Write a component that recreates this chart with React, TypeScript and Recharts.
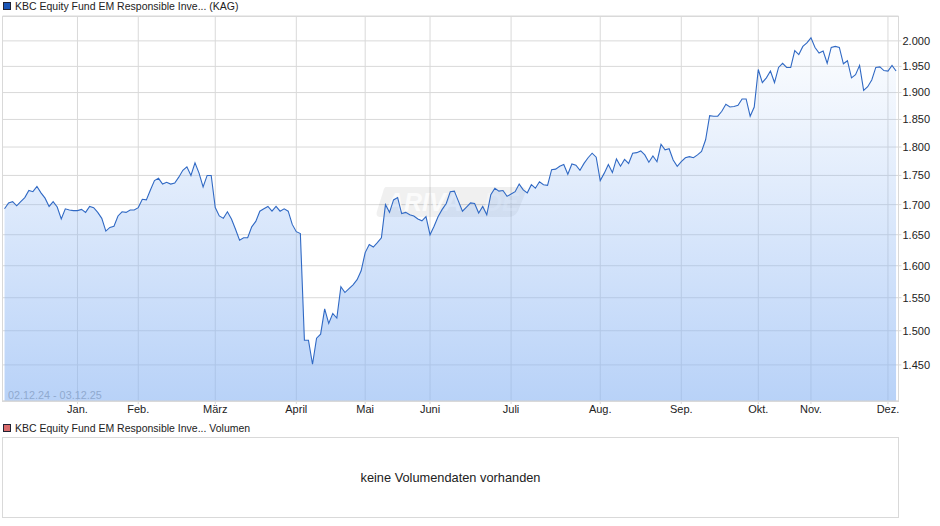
import { AreaChart, Area, XAxis, YAxis, CartesianGrid } from "recharts";

const FONT = '"Liberation Sans", Arial, sans-serif';

const closeValues = [
  1693, 1703, 1705, 1698, 1705, 1712, 1724, 1722, 1731, 1720, 1711, 1697, 1705, 1696, 1676, 1693, 1691, 1690, 1690, 1692,
  1687, 1697, 1695, 1687, 1677, 1656, 1662, 1664, 1681, 1688, 1687, 1691, 1691, 1695, 1709, 1708, 1725, 1741, 1745, 1735,
  1738, 1735, 1737, 1747, 1759, 1765, 1750, 1772, 1754, 1730, 1750, 1750, 1695, 1681, 1677, 1688, 1676, 1659, 1641, 1645,
  1645, 1663, 1672, 1689, 1693, 1697, 1689, 1697, 1689, 1693, 1689, 1667, 1655, 1652, 1486, 1486, 1451, 1489, 1495, 1533,
  1511, 1526, 1519, 1567, 1558, 1564, 1570, 1578, 1592, 1621, 1634, 1630, 1637, 1645, 1700, 1687, 1708, 1712, 1685, 1687,
  1683, 1681, 1676, 1673, 1680, 1650, 1664, 1680, 1692, 1702, 1722, 1723, 1706, 1689, 1696, 1703, 1702, 1686, 1697, 1683,
  1717, 1728, 1723, 1724, 1714, 1718, 1722, 1735, 1725, 1720, 1734, 1728, 1739, 1734, 1733, 1760, 1761, 1766, 1769, 1752,
  1770, 1768, 1759, 1771, 1781, 1789, 1782, 1741, 1754, 1769, 1755, 1779, 1766, 1778, 1771, 1789, 1790, 1793, 1786, 1773,
  1784, 1774, 1805, 1795, 1797, 1777, 1766, 1774, 1781, 1783, 1781, 1786, 1792, 1813, 1857, 1856, 1856, 1865, 1878, 1873,
  1874, 1876, 1888, 1888, 1856, 1873, 1944, 1919, 1928, 1941, 1919, 1948, 1956, 1948, 1948, 1981, 1973, 1989, 1996, 2006,
  1987, 1976, 1980, 1956, 1987, 1989, 1987, 1955, 1961, 1928, 1934, 1952, 1904, 1911, 1924, 1948, 1949, 1942, 1941, 1952,
  1941,
];

const monthLabels = ["Jan.", "Feb.", "März", "April", "Mai", "Juni", "Juli", "Aug.", "Sep.", "Okt.", "Nov.", "Dez."];
const monthStarts = [18, 33, 52, 72, 89, 105, 125, 147, 167, 186, 199, 218];
const priceTicks = [1450, 1500, 1550, 1600, 1650, 1700, 1750, 1800, 1850, 1900, 1950, 2000];

const rows = closeValues.map((close, idx) => ({ idx, close }));

const fmtPrice = (v: number) => v.toLocaleString("de-DE");
const fmtMonth = (v: number) => monthLabels[monthStarts.indexOf(v)] ?? "";

function LegendRow({ top, color, text }: { top: number; color: string; text: string }) {
  return (
    <>
      <div
        style={{
          position: "absolute",
          left: 3,
          top,
          width: 6,
          height: 6,
          background: color,
          border: "1px solid #223",
        }}
      />
      <div style={{ position: "absolute", left: 15, top: top - 2, fontSize: 10.5, lineHeight: "13px", color: "#222" }}>
        {text}
      </div>
    </>
  );
}

export default function App() {
  return (
    <div
      style={{
        position: "absolute",
        left: 0,
        top: 0,
        width: 940,
        height: 526,
        background: "#fff",
        fontFamily: FONT,
        overflow: "hidden",
      }}
    >
      <AreaChart width={940} height={526} data={rows} margin={{ top: 16, right: 0, bottom: 100, left: 2.5 }}>
        <defs>
          <linearGradient id="fundFill" x1="0" y1="0" x2="0" y2="1">
            <stop offset="0%" stopColor="#89b4f3" stopOpacity={0.02} />
            <stop offset="100%" stopColor="#89b4f3" stopOpacity={0.6} />
          </linearGradient>
        </defs>
        <CartesianGrid stroke="#d9d9d9" strokeWidth={1} />
        <XAxis
          dataKey="idx"
          type="number"
          domain={[-0.5, 220.6]}
          allowDataOverflow
          ticks={monthStarts}
          tickFormatter={fmtMonth}
          interval={0}
          height={25}
          tickSize={3}
          tickMargin={1}
          stroke="#d9d9d9"
          tick={{ fontSize: 11, fill: "#222", fontFamily: FONT }}
        />
        <YAxis
          orientation="right"
          scale="log"
          domain={[1399, 2050]}
          allowDataOverflow
          ticks={priceTicks}
          tickFormatter={fmtPrice}
          interval={0}
          width={41.5}
          tickSize={3}
          tickMargin={1}
          stroke="#d9d9d9"
          tick={{ fontSize: 11, fill: "#222", fontFamily: FONT, textAnchor: "start" }}
        />
        <Area
          dataKey="close"
          type="linear"
          baseValue={1399}
          stroke="#3069c4"
          strokeWidth={1.1}
          fill="url(#fundFill)"
          fillOpacity={1}
          dot={false}
          activeDot={false}
          isAnimationActive={false}
        />
        <text x={8} y={399} fontSize={10.8} fill="#999" fontFamily={FONT}>
          02.12.24 - 03.12.25
        </text>
        {/* watermark */}
        <path d="M386 187 H521 Q528 187 525 194 L518 211 Q515 217 508 217 H381 Q375 217 377 211 L383 192 Q384 187 386 187 Z" fill="#000" fillOpacity={0.06} />
        <text x={386} y={211} fontSize={25} fontStyle="italic" fontWeight="bold" fill="#fff" fillOpacity={0.75} fontFamily={FONT}>
          ARIVA
        </text>
        <text x={477} y={211} fontSize={25} fontStyle="italic" fontWeight="bold" fill="#fff" fillOpacity={0.35} fontFamily={FONT}>
          .DE
        </text>
      </AreaChart>

      <div
        style={{
          position: "absolute",
          left: 2,
          top: 16,
          width: 895,
          height: 384,
          border: "1px solid #d9d9d9",
          pointerEvents: "none",
        }}
      />

      <LegendRow top={2} color="#1a56b8" text="KBC Equity Fund EM Responsible Inve... (KAG)" />
      <LegendRow top={424} color="#d96b6b" text="KBC Equity Fund EM Responsible Inve... Volumen" />

      <div
        style={{
          position: "absolute",
          left: 2,
          top: 437,
          width: 895,
          height: 79,
          border: "1px solid #d9d9d9",
          display: "flex",
          alignItems: "center",
          justifyContent: "center",
          fontSize: 12.8,
          color: "#222",
        }}
      >
        keine Volumendaten vorhanden
      </div>
    </div>
  );
}
